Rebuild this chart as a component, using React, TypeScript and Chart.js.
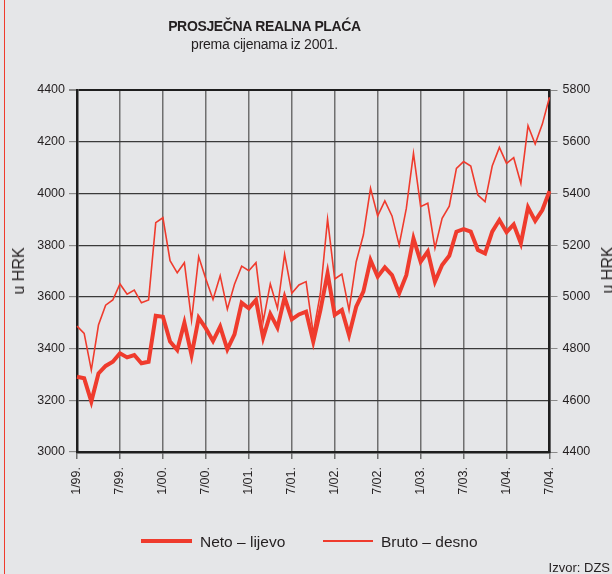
import React, { useEffect, useRef } from "react";
import { Chart, registerables } from "chart.js";

Chart.register(...registerables);

const years = ["99", "00", "01", "02", "03", "04"];
const lastMonth = 7;
const categories: string[] = [];
years.forEach((yy, yi) => {
  for (let m = 1; m <= 12; m++) {
    if (yi === years.length - 1 && m > lastMonth) break;
    categories.push(`${m}/${yy}.`);
  }
});

const netoValues = [
  3291, 3285, 3195, 3304, 3333, 3349, 3382, 3366, 3375, 3343, 3349,
  3527, 3523, 3427, 3394, 3500, 3375, 3519, 3478, 3429, 3485, 3397,
  3455, 3577, 3556, 3588, 3442, 3534, 3481, 3598, 3513, 3532, 3543,
  3427, 3549, 3691, 3530, 3549, 3452, 3562, 3620, 3742, 3678, 3714,
  3684, 3614, 3684, 3826, 3736, 3775, 3659, 3723, 3759, 3852, 3862,
  3852, 3781, 3768, 3852, 3897, 3850, 3880, 3807, 3946, 3894, 3936, 4009,
];

const brutoValues = [
  4887, 4859, 4717, 4891, 4968, 4988, 5050, 5010, 5026, 4977, 4988,
  5287, 5306, 5140, 5093, 5132, 4910, 5155, 5069, 4990, 5082, 4952,
  5049, 5119, 5101, 5132, 4904, 5050, 4956, 5164, 5014, 5046, 5059,
  4859, 5014, 5300, 5069, 5088, 4949, 5136, 5239, 5420, 5313, 5371,
  5313, 5200, 5342, 5555, 5349, 5362, 5188, 5304, 5351, 5497, 5523,
  5506, 5394, 5368, 5506, 5578, 5516, 5538, 5439, 5662, 5591, 5668, 5772,
];

const leftTicks = { min: 3000, max: 4400, step: 200 };
const rightTicks = { min: 4400, max: 5800, step: 200 };
const xTickEvery = 6;

const RED = "#ef3b2d";
const TEXT = "#231f20";
const FONT = "'Liberation Sans', Arial, Helvetica, sans-serif";

const plainNumber = (v: any) => String(v);

export default function App() {
  const canvasRef = useRef<HTMLCanvasElement | null>(null);

  useEffect(() => {
    const canvas = canvasRef.current;
    if (!canvas) return;
    Chart.defaults.font.family = FONT;
    const chart = new Chart(canvas, {
      type: "line",
      data: {
        labels: categories,
        datasets: [
          {
            label: "Neto – lijevo",
            data: netoValues,
            borderColor: RED,
            borderWidth: 4,
            pointRadius: 0,
            tension: 0,
            yAxisID: "y",
          },
          {
            label: "Bruto – desno",
            data: brutoValues,
            borderColor: RED,
            borderWidth: 1.6,
            pointRadius: 0,
            tension: 0,
            yAxisID: "y1",
          },
        ],
      },
      options: {
        responsive: false,
        animation: false,
        devicePixelRatio: 1,
        layout: { padding: { top: 90, left: 0, right: 0, bottom: 0 } },
        plugins: {
          legend: { display: false },
          title: { display: false },
          tooltip: { enabled: false },
        },
        scales: {
          x: {
            type: "category",
            offset: false,
            afterFit: (scale: any) => {
              scale.height = 122;
            },
            grid: {
              color: (ctx: any) =>
                ctx.index % xTickEvery === 0 ? "#6f6f6f" : "rgba(0,0,0,0)",
              tickColor: (ctx: any) =>
                ctx.index % xTickEvery === 0 ? "#6f6f6f" : "rgba(0,0,0,0)",
              lineWidth: 1.5,
              tickLength: 7,
              drawTicks: true,
            },
            border: { color: "#1e1e1e", width: 2.5 },
            ticks: {
              autoSkip: false,
              maxRotation: 90,
              minRotation: 90,
              padding: 8,
              color: TEXT,
              font: { size: 12.5, family: FONT },
              callback: function (this: any, val: any, idx: number) {
                return idx % xTickEvery === 0 ? categories[idx] : "";
              },
            },
          },
          y: {
            position: "left",
            min: leftTicks.min,
            max: leftTicks.max,
            afterFit: (scale: any) => {
              scale.width = 77;
            },
            grid: {
              color: (ctx: any) =>
                ctx.tick && ctx.tick.value === leftTicks.max ? "#1e1e1e" : "#3a3a3a",
              lineWidth: (ctx: any) =>
                ctx.tick && ctx.tick.value === leftTicks.max ? 2 : 1.2,
              tickColor: "#8a8a8a",
              tickLength: 8,
            },
            border: { color: "#1e1e1e", width: 2.5 },
            ticks: {
              stepSize: leftTicks.step,
              padding: 4,
              color: TEXT,
              font: { size: 12.5, family: FONT },
              callback: plainNumber,
            },
          },
          y1: {
            position: "right",
            min: rightTicks.min,
            max: rightTicks.max,
            afterFit: (scale: any) => {
              scale.width = 62.5;
            },
            grid: {
              drawOnChartArea: false,
              tickColor: "#8a8a8a",
              tickLength: 8,
            },
            border: { color: "#1e1e1e", width: 2.5 },
            ticks: {
              stepSize: rightTicks.step,
              padding: 5,
              color: TEXT,
              font: { size: 12.5, family: FONT },
              callback: plainNumber,
            },
          },
        },
      },
    });
    return () => chart.destroy();
  }, []);

  const abs: React.CSSProperties = {
    position: "absolute",
    fontFamily: FONT,
    color: TEXT,
    whiteSpace: "nowrap",
    lineHeight: 1,
  };

  return (
    <div
      style={{
        position: "fixed",
        left: 0,
        top: 0,
        width: 612,
        height: 574,
        background: "#e5e6e8",
        overflow: "hidden",
      }}
    >
      <div
        style={{
          position: "absolute",
          left: 3.5,
          top: 0,
          width: 1.2,
          height: 574,
          background: RED,
        }}
      />
      <canvas
        ref={canvasRef}
        width={612}
        height={574}
        style={{ position: "absolute", left: 0, top: 0, width: 612, height: 574 }}
      />
      <div
        style={{
          ...abs,
          left: 264.5,
          top: 18.5,
          transform: "translateX(-50%)",
          fontWeight: "bold",
          fontSize: 14,
          letterSpacing: -0.35,
        }}
      >
        PROSJEČNA REALNA PLAĆA
      </div>
      <div
        style={{
          ...abs,
          left: 264.5,
          top: 36.5,
          transform: "translateX(-50%)",
          fontSize: 14,
          letterSpacing: -0.25,
        }}
      >
        prema cijenama iz 2001.
      </div>
      <div
        style={{
          ...abs,
          left: 18.5,
          top: 271,
          transform: "translate(-50%, -50%) rotate(-90deg)",
          fontSize: 16,
        }}
      >
        u HRK
      </div>
      <div
        style={{
          ...abs,
          left: 608,
          top: 270,
          transform: "translate(-50%, -50%) rotate(-90deg)",
          fontSize: 16,
        }}
      >
        u HRK
      </div>
      <div
        style={{
          position: "absolute",
          left: 141,
          top: 539,
          width: 51,
          height: 4,
          background: RED,
        }}
      />
      <div style={{ ...abs, left: 200, top: 533.5, fontSize: 15.5 }}>Neto – lijevo</div>
      <div
        style={{
          position: "absolute",
          left: 323,
          top: 540.2,
          width: 50,
          height: 1.6,
          background: RED,
        }}
      />
      <div style={{ ...abs, left: 381, top: 533.5, fontSize: 15.5 }}>Bruto – desno</div>
      <div style={{ ...abs, right: 2, top: 561, fontSize: 13 }}>Izvor: DZS</div>
    </div>
  );
}
